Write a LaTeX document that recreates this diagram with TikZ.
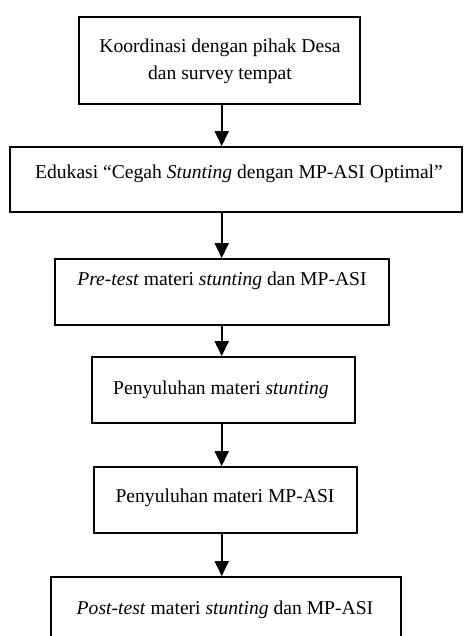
\documentclass[tikz,border=0pt]{standalone}
\usepackage{fontspec}
\setmainfont{Liberation Serif}
\usetikzlibrary{arrows.meta}
\begin{document}
\begin{tikzpicture}[x=1pt,y=-1pt,
  box/.style={draw,line width=1.8pt,inner sep=0pt},
  txt/.style={font=\fontsize{19.6}{27}\selectfont,inner sep=0pt,anchor=base,align=center},
  arr/.style={line width=1.8pt,-{Triangle[length=15pt,width=14pt]}}]
\useasboundingbox (0,0) rectangle (463,636);
\coordinate (axis) at (221.7,0);
\node[box,minimum width=281pt,minimum height=87pt] (b1) at (219.5,60.5) {};
\node[box,minimum width=452pt,minimum height=65pt] (b2) at (236,179.5) {};
\node[box,minimum width=334pt,minimum height=66pt] (b3) at (222,292) {};
\node[box,minimum width=263pt,minimum height=66pt] (b4) at (223.5,390) {};
\node[box,minimum width=263pt,minimum height=66pt] (b5) at (225.5,500) {};
\node[box,minimum width=350pt,minimum height=73pt] (b6) at (226,613.5) {};
\node[txt] (t1) at (220,80) {Koordinasi dengan pihak Desa\\dan survey tempat};
\node[txt] (t2) at (239,179) {Edukasi “Cegah \textit{Stunting} dengan MP-ASI Optimal”};
\node[txt] (t3) at (222,285) {\textit{Pre-test} materi \textit{stunting} dan MP-ASI};
\node[txt] (t4) at (221,394) {Penyuluhan materi \textit{stunting}};
\node[txt] (t5) at (225,502) {Penyuluhan materi MP-ASI};
\node[txt] (t6) at (225,614) {\textit{Post-test} materi \textit{stunting} dan MP-ASI};
\draw[arr] (b1.south -| axis) -- (b2.north -| axis);
\draw[arr] (b2.south -| axis) -- (b3.north -| axis);
\draw[arr] (b3.south -| axis) -- (b4.north -| axis);
\draw[arr] (b4.south -| axis) -- (b5.north -| axis);
\draw[arr] (b5.south -| axis) -- (b6.north -| axis);
\end{tikzpicture}
\end{document}
